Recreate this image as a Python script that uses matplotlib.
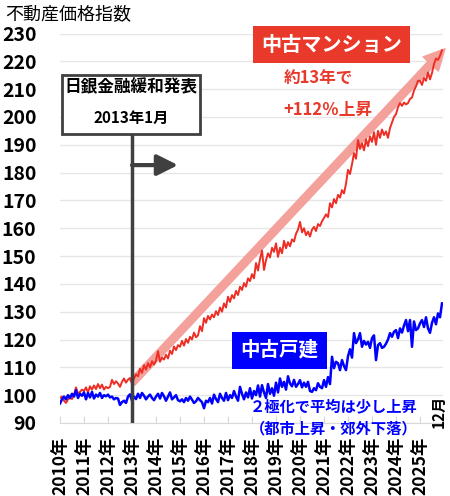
import matplotlib
matplotlib.use('Agg')
import matplotlib.pyplot as plt
from matplotlib.patches import Rectangle
import numpy as np

plt.rcParams['font.family'] = ['Noto Sans CJK JP', 'DejaVu Sans']

# monthly index, Jan 2010 - Dec 2025
years = list(range(2010, 2026))
mansion = [
    99.0, 99.5, 98.0, 97.2, 98.5, 99.0, 98.6, 100.2, 102.8, 100.5, 101.2, 102.0,
    101.5, 102.8, 101.0, 103.2, 102.0, 103.5, 102.2, 104.0, 102.5, 103.8, 102.0, 103.0,
    102.5, 103.0, 105.5, 104.0, 105.0, 104.2, 103.0, 104.8, 106.0, 104.5, 105.6, 106.2,
    104.2, 106.0, 107.5, 106.8, 109.5, 108.0, 110.8, 109.2, 111.5, 110.0, 112.2, 111.0,
    112.5, 115.8, 112.0, 113.5, 112.8, 114.5, 113.2, 116.0, 114.8, 117.5, 116.2, 118.0,
    117.4, 119.5, 117.8, 120.2, 118.8, 121.0, 120.0, 122.5, 120.8, 121.5, 124.8, 123.0,
    127.7, 126.0, 128.5, 127.2, 129.0, 128.0, 130.2, 128.8, 131.5, 130.0, 133.0, 131.5,
    135.4, 133.5, 136.0, 134.8, 137.5, 136.0, 139.0, 137.8, 140.3, 139.0, 142.0, 141.0,
    143.5, 142.0, 147.5, 144.8, 149.0, 152.0, 145.0, 148.5, 151.0, 149.5, 153.0, 151.5,
    154.6, 149.7, 153.0, 151.0, 155.5, 152.8, 155.0, 153.5, 156.0, 155.2, 158.0, 159.5,
    162.3, 158.5, 160.0, 157.5, 158.8, 157.0, 159.5, 160.5, 159.0, 161.5, 160.8, 162.5,
    163.7, 165.0, 164.0, 169.0, 167.5, 170.5, 169.0, 172.0, 171.0, 173.7, 172.5, 176.0,
    181.0, 179.5, 183.0, 187.0, 185.0, 191.7, 188.5, 190.5, 188.0, 192.0, 189.5, 193.0,
    191.0, 194.5, 190.0, 195.0, 192.5, 195.5, 193.5, 194.8, 192.5, 196.0, 198.0, 200.0,
    201.0, 203.5, 205.0, 204.0, 205.2, 204.5, 205.0, 206.5, 207.0, 209.5, 211.0, 213.0,
    213.0, 211.5, 214.0, 213.0, 216.0, 213.5, 215.8, 219.0, 221.0, 220.5, 222.0, 224.0,
]
house = [
    97.0, 98.5, 99.5, 98.5, 100.0, 99.0, 100.5, 99.5, 101.8, 99.0, 100.5, 99.8,
    101.0, 98.5, 100.8, 99.2, 101.2, 98.8, 100.2, 99.5, 100.8, 99.0, 100.0, 99.6,
    100.2, 99.2, 99.5, 98.5, 99.0, 98.8, 96.5, 97.5, 98.0, 97.2, 99.5, 100.3,
    98.0, 99.5, 98.6, 100.5, 99.0, 100.8, 99.8, 98.5, 99.5, 100.2, 99.0, 98.2,
    99.5, 100.5, 98.8, 100.8, 99.6, 98.0, 99.5, 101.0, 98.5, 99.2, 100.0, 98.2,
    97.8, 98.5, 97.5, 99.0, 98.0, 99.5, 98.4, 97.2, 97.8, 99.0, 98.2, 97.5,
    95.3, 98.0, 97.5, 99.0, 97.0, 100.2, 98.6, 97.5, 100.5, 99.0, 98.0, 100.8,
    98.2, 100.0, 99.0, 101.5, 99.5, 98.0, 103.0, 100.5, 98.5, 101.0, 99.2, 102.5,
    98.8, 101.5, 100.0, 103.5, 99.5, 103.6, 101.0, 99.0, 104.0, 100.5, 102.5, 99.8,
    104.5, 101.0, 106.0, 103.0, 104.8, 102.0, 106.8, 104.2, 103.2, 105.5, 103.0, 104.0,
    105.4, 102.8, 104.5, 103.0, 104.8, 101.5, 101.2, 102.5, 101.8, 104.3, 103.0, 102.5,
    105.4, 103.0, 106.5, 104.0, 113.8, 109.7, 112.0, 111.5, 109.0, 112.6, 110.5, 109.0,
    114.0, 116.5, 113.5, 122.3, 118.7, 120.0, 122.3, 117.4, 119.5, 118.2, 119.2, 117.0,
    120.5, 121.5, 112.6, 118.0, 118.7, 117.0, 117.4, 118.5, 120.0, 122.3, 121.0, 122.8,
    123.4, 120.5, 124.0, 122.5, 125.0, 127.0, 123.0, 127.0, 117.4, 126.5, 123.4, 124.0,
    125.8, 127.0, 124.5, 128.0, 124.0, 122.4, 126.0, 128.0, 125.5, 129.4, 128.0, 133.0,
]
year_labels = [str(y) + '年' for y in years]

red = '#EE2E24'
blue = '#0000FF'
grey = '#404040'

fig = plt.figure(figsize=(4.5, 4.96), dpi=100)
ax = fig.add_axes([60/450, 1 - 423/496, 383/450, 389.5/496])

x = np.arange(len(mansion))
ax.plot(x, mansion, color=red, lw=1.4, zorder=4)
ax.plot(x, house, color=blue, lw=1.8, zorder=4)

ax.set_xlim(0, 191.5)
ax.set_ylim(90, 230)
ax.set_yticks(range(90, 231, 10))
ax.set_xticks(np.arange(len(years)) * 12)
ax.set_xticklabels(year_labels, rotation=90, fontsize=12.5, fontweight='bold')
for t in ax.get_yticklabels():
    t.set_fontsize(14)
    t.set_fontweight('bold')
ax.tick_params(axis='y', length=0, pad=17)
ax.tick_params(axis='x', direction='in', length=5, color='#D9D9D9', pad=10)
ax.grid(axis='y', color='#E6E6E6', lw=1)
for s in ['top', 'right', 'left']:
    ax.spines[s].set_visible(False)
ax.spines['bottom'].set_color('#D9D9D9')

# pink trend arrow
ax.annotate('', xy=(192.5, 224.5), xytext=(36, 104.5),
            arrowprops=dict(arrowstyle='simple,head_width=1.5,head_length=1.5,tail_width=0.55',
                            color='#F4A09B', mutation_scale=10, shrinkA=0, shrinkB=0),
            zorder=3, annotation_clip=False)

# BOJ easing marker
ax.plot([36, 36], [90, 194], color=grey, lw=2.5, zorder=5)
ax.add_patch(Rectangle((1, 193.9), 69.2, 21.2, facecolor='white', edgecolor=grey,
                       lw=2, zorder=6))
ax.text(35.6, 210.8, '日銀金融緩和発表', ha='center', va='center', fontsize=12,
        fontweight='bold', zorder=7)
ax.text(35.6, 199.6, '2013年1月', ha='center', va='center', fontsize=11,
        fontweight='bold', zorder=7)
ax.annotate('', xy=(59, 182.7), xytext=(36, 182.7),
            arrowprops=dict(arrowstyle='-|>,head_width=0.45,head_length=0.9', lw=3,
                            color=grey, mutation_scale=14, shrinkA=0, shrinkB=0), zorder=5)

# labels
ax.text(135.7, 225.9, '中古マンション', ha='center', va='center', fontsize=14.5,
        fontweight='bold', color='white', zorder=7,
        bbox=dict(boxstyle='square,pad=0.4', facecolor='#E8392B', edgecolor='none'))
ax.text(111.8, 213.7, '約13年で', ha='left', va='center', fontsize=12,
        fontweight='bold', color='#E8392B')
ax.text(111.8, 202.5, '+112％上昇', ha='left', va='center', fontsize=12,
        fontweight='bold', color='#E8392B')

ax.text(109.8, 116.2, '中古戸建', ha='center', va='center', fontsize=14,
        fontweight='bold', color='white', zorder=7,
        bbox=dict(boxstyle='square,pad=0.45', facecolor=blue, edgecolor='none'))
ax.text(136.8, 95.9, '２極化で平均は少し上昇', ha='center', va='center', fontsize=11,
        fontweight='bold', color=blue, zorder=7)
ax.text(136.8, 88.2, '（都市上昇・郊外下落）', ha='center', va='center', fontsize=11,
        fontweight='bold', color=blue, zorder=7, clip_on=False)
ax.text(189.2, 94, '12月', rotation=90, ha='center', va='center', fontsize=11,
        fontweight='bold', zorder=7)

fig.text(5/450, 1 - 5/496, '不動産価格指数', ha='left', va='top', fontsize=13)

fig.savefig('out.png', dpi=100)
